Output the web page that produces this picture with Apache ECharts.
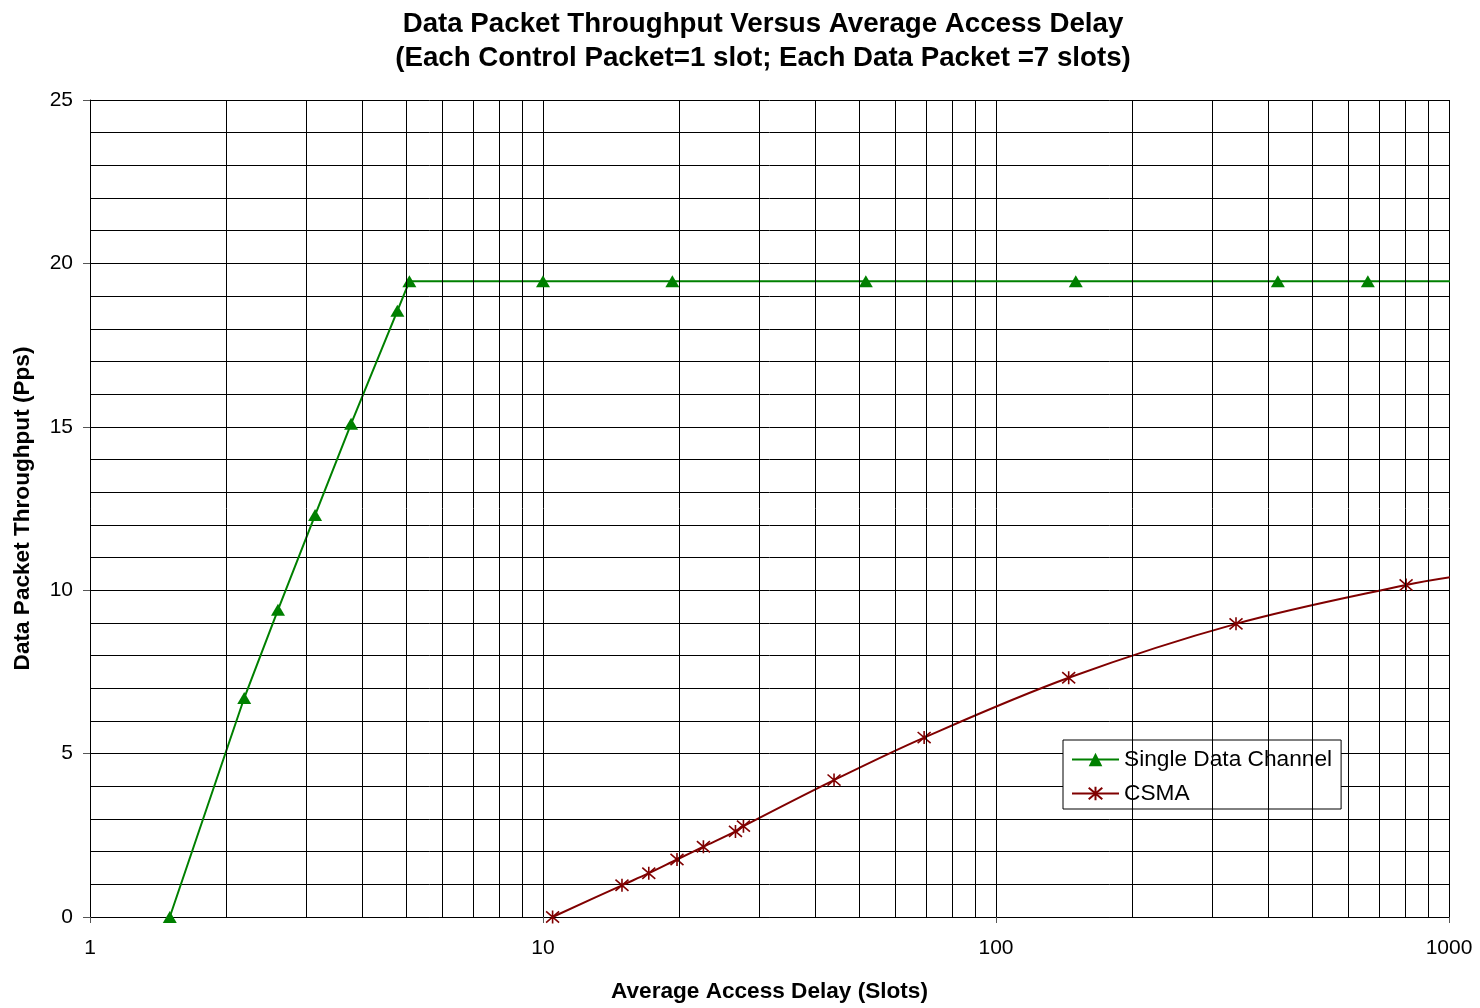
<!DOCTYPE html>
<html><head><meta charset="utf-8">
<script src="https://cdn.jsdelivr.net/npm/echarts@6/dist/echarts.min.js"></script>
<style>html,body{margin:0;padding:0;background:#fff}#c{width:1480px;height:1008px}</style>
</head><body><div id="c"></div>
<script>
// Single Data Channel (last point has no marker; line runs just past the axis end)
const sdcDelay = [1.50, 2.19, 2.60, 3.14, 3.77, 4.77, 5.07, 10.0, 19.3, 51.6, 150, 419, 662, 1031];
const sdcThroughput = [0, 6.70, 9.40, 12.30, 15.09, 18.55, 19.45, 19.45, 19.45, 19.45, 19.45, 19.45, 19.45, 19.45];
// CSMA
const csmaDelay = [10.5, 14.94, 17.12, 19.76, 22.6, 26.6, 27.7, 43.9, 69.4, 144.7, 338.7, 804, 1031];
const csmaThroughput = [0, 0.97, 1.34, 1.76, 2.15, 2.62, 2.78, 4.19, 5.49, 7.32, 8.97, 10.16, 10.42];
// axes
const xMajorTicks = [1, 10, 100, 1000];
const xMinorGrid = [2,3,4,5,6,7,8,9,20,30,40,50,60,70,80,90,200,300,400,500,600,700,800,900];
const yMin = 0, yMax = 25, yStep = 5;

const FONT = '"Liberation Sans", Arial, sans-serif';
const GREEN = '#008000', RED = '#800000';
const ASTER = 'path://M0,0L12,12M12,0L0,12M6,-1L6,13';

function pts(xs, ys) {
  return xs.map((x, i) => {
    const d = { value: [x, ys[i]] };
    if (i === xs.length - 1) d.symbol = 'none';
    return d;
  });
}

const chart = echarts.init(document.getElementById('c'), null, { renderer: 'canvas' });
chart.setOption({
  animation: false,
  backgroundColor: '#fff',
  title: {
    text: 'Data Packet Throughput Versus Average Access Delay\n(Each Control Packet=1 slot; Each Data Packet =7 slots)',
    left: 758, top: 2, textAlign: 'center',
    textStyle: { fontFamily: FONT, fontSize: 27.7, fontWeight: 'bold', color: '#000', lineHeight: 34 }
  },
  grid: { left: 90, right: 31, top: 100, bottom: 88, containLabel: false },
  legend: {
    data: ['Single Data Channel', 'CSMA'],
    orient: 'vertical',
    left: 1063, top: 740,
    padding: [8, 9, 4, 8],
    itemWidth: 47, itemHeight: 17, itemGap: 11,
    backgroundColor: '#fff', borderColor: '#000', borderWidth: 1,
    textStyle: { fontFamily: FONT, fontSize: 22.7, color: '#000' }
  },
  xAxis: {
    type: 'log', logBase: 10, min: 1, max: 1000,
    name: 'Average Access Delay (Slots)', nameLocation: 'middle', nameGap: 63,
    nameTextStyle: { fontFamily: FONT, fontSize: 22.6, fontWeight: 'bold', color: '#000' },
    axisLine: { show: true, lineStyle: { color: '#000', width: 1 } },
    axisTick: { show: true, inside: false, length: 6, lineStyle: { color: '#555' } },
    axisLabel: { margin: 21, fontFamily: FONT, fontSize: 21, color: '#000',
      formatter: v => String(Math.round(v)) },
    splitLine: { show: true, lineStyle: { color: '#000', width: 1 } },
    minorTick: { show: false }, minorSplitLine: { show: false }
  },
  yAxis: {
    type: 'value', min: yMin, max: yMax, interval: yStep,
    name: 'Data Packet Throughput (Pps)', nameLocation: 'middle', nameGap: 56,
    nameTextStyle: { fontFamily: FONT, fontSize: 22.6, fontWeight: 'bold', color: '#000' },
    axisLine: { show: true, lineStyle: { color: '#000', width: 1 } },
    axisTick: { show: true, inside: false, length: 7, lineStyle: { color: '#555' } },
    axisLabel: { margin: 17, fontFamily: FONT, fontSize: 21, color: '#000' },
    splitLine: { show: true, lineStyle: { color: '#000', width: 1 } },
    minorTick: { show: false, splitNumber: 5 },
    minorSplitLine: { show: true, lineStyle: { color: '#000', width: 1 } }
  },
  series: [
    {
      name: 'grid', type: 'line', data: [], silent: true, z: 1,
      markLine: {
        silent: true, symbol: ['none', 'none'], animation: false,
        label: { show: false },
        lineStyle: { color: '#000', width: 1, type: 'solid' },
        emphasis: { disabled: true },
        data: xMinorGrid.map(v => ({ xAxis: v }))
      }
    },
    {
      name: 'Single Data Channel', type: 'line', z: 3, clip: false,
      data: pts(sdcDelay, sdcThroughput),
      symbol: 'triangle', symbolSize: [14, 12], showAllSymbol: true,
      lineStyle: { color: GREEN, width: 2 },
      itemStyle: { color: GREEN, borderColor: GREEN, borderWidth: 0 },
      emphasis: { disabled: true }
    },
    {
      name: 'CSMA', type: 'line', z: 3, clip: false, smooth: 0.35,
      data: pts(csmaDelay, csmaThroughput),
      symbol: ASTER, symbolSize: 13, showAllSymbol: true,
      lineStyle: { color: RED, width: 2 },
      itemStyle: { color: RED, borderColor: RED, borderWidth: 1.6 },
      emphasis: { disabled: true }
    }
  ]
});
</script></body></html>
